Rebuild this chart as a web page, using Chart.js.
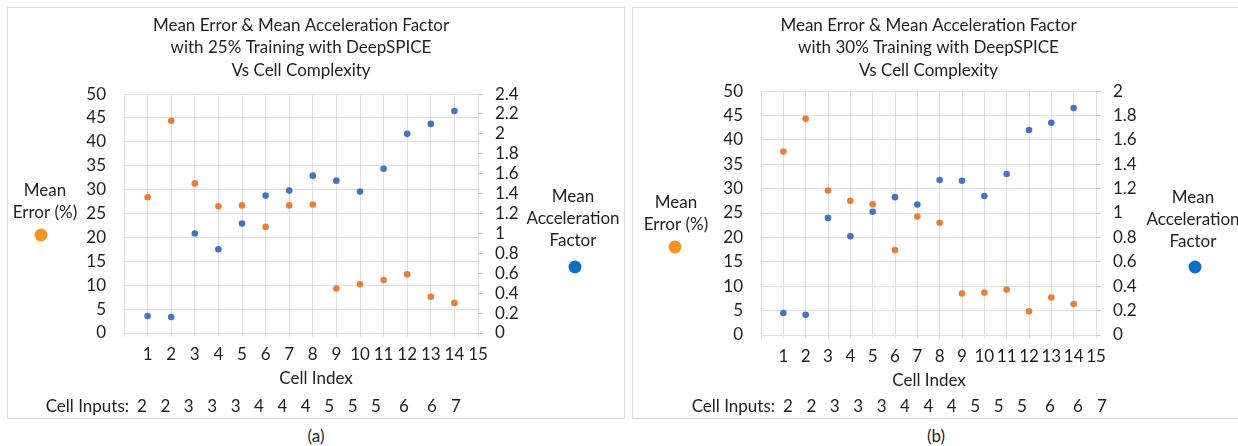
<!DOCTYPE html>
<html>
<head>
<meta charset="utf-8">
<title>Mean Error & Mean Acceleration Factor vs Cell Complexity</title>
<script src="https://cdn.jsdelivr.net/npm/chart.js@4.4.1/dist/chart.umd.min.js"></script>
<style>
  html, body { margin: 0; padding: 0; background: #fff; }
  body { width: 1238px; height: 446px; position: relative; overflow: hidden;
         font-family: Lato, sans-serif; color: #1f1f1f; }
  .panel { position: absolute; top: 7px; border: 1px solid #dcdcdc; background: #fff; }
  .panel canvas { display: block; }
  #panelA { left: 7px; }
  #panelB { left: 632px; border-right: none; }
  .caption { position: absolute; top: 426px; font-size: 17px; line-height: 20px;
             transform: translateX(-50%); }
</style>
</head>
<body>
<div class="panel" id="panelA"><canvas id="chartA" width="616" height="410"></canvas></div>
<div class="panel" id="panelB"><canvas id="chartB" width="605" height="410"></canvas></div>
<div class="caption" style="left:316px">(a)</div>
<div class="caption" style="left:936px">(b)</div>

<script>
/* ── Data ───────────────────────────────────────── */
const cellIndex  = [1, 2, 3, 4, 5, 6, 7, 8, 9, 10, 11, 12, 13, 14];
const cellInputs = [2, 2, 3, 3, 3, 4, 4, 4, 5, 5, 5, 6, 6, 7];

// (a) 25% training
const errorA = [28.4, 44.4, 31.3, 26.5, 26.7, 22.2, 26.7, 26.9, 9.3, 10.2, 11.1, 12.3, 7.6, 6.3];
const accelA = [0.17, 0.16, 1.00, 0.84, 1.10, 1.38, 1.43, 1.58, 1.53, 1.42, 1.65, 2.00, 2.10, 2.23];

// (b) 30% training
const errorB = [37.6, 44.3, 29.6, 27.5, 26.8, 17.4, 24.3, 23.0, 8.5, 8.7, 9.3, 4.85, 7.7, 6.35];
const accelB = [0.18, 0.165, 0.96, 0.81, 1.01, 1.13, 1.07, 1.27, 1.265, 1.14, 1.32, 1.68, 1.74, 1.86];

const errorTicks = { min: 0, max: 50, step: 5 };
const accelTicksA = { min: 0, max: 2.4, step: 0.2 };
const accelTicksB = { min: 0, max: 2, step: 0.2 };

/* ── Style ──────────────────────────────────────── */
const TEXT   = '#1f1f1f';
const GRID   = '#e0e0e0';
const ORANGE = '#ED7D31';
const BLUE   = '#4472C4';
const FONT   = 'Lato, sans-serif';
const SIZE   = 17;
const LINE   = 22;
const inputGaps = [23.4, 23.4, 23.4, 23.4, 23.4, 23.4, 23.4, 23.4, 23.4, 23.4, 28, 28, 24];

Chart.defaults.font.family = FONT;
Chart.defaults.font.size = SIZE;
Chart.defaults.color = TEXT;

/* ── Extra labels drawn around the plot ─────────── */
const panelExtras = {
  id: 'panelExtras',
  afterDraw(chart, args, o) {
    const { ctx } = chart;
    ctx.save();
    ctx.font = `${SIZE}px ${FONT}`;
    ctx.fillStyle = TEXT;
    ctx.textAlign = 'center';
    ctx.textBaseline = 'middle';

    ctx.fillText('Cell Index', o.indexX, o.indexY);

    o.side.forEach(s => {
      ctx.fillStyle = TEXT;
      s.lines.forEach((t, i) => ctx.fillText(t, s.x, s.y + i * LINE));
      ctx.beginPath();
      ctx.arc(s.dotX, s.dotY, 6.5, 0, Math.PI * 2);
      ctx.fillStyle = s.color;
      ctx.fill();
    });

    ctx.fillStyle = TEXT;
    ctx.textAlign = 'right';
    ctx.fillText('Cell Inputs:', o.inputsX - 13, o.inputsY);
    ctx.textAlign = 'center';
    let x = o.inputsX;
    cellInputs.forEach((v, i) => {
      if (i) x += inputGaps[i - 1];
      ctx.fillText(String(v), x, o.inputsY);
    });
    ctx.restore();
  }
};

function points(ys) {
  return cellIndex.map((x, i) => ({ x, y: ys[i] }));
}

function fmt(v) {
  return String(+v.toFixed(1));
}

/* ── Chart builder ──────────────────────────────── */
function buildChart(id, cfg) {
  const ctx = document.getElementById(id).getContext('2d');
  return new Chart(ctx, {
    type: 'scatter',
    data: {
      datasets: [
        { label: 'Mean Error (%)', data: points(cfg.error), yAxisID: 'y',
          backgroundColor: ORANGE, borderWidth: 0, pointRadius: 3.3 },
        { label: 'Mean Acceleration Factor', data: points(cfg.accel), yAxisID: 'y1',
          backgroundColor: BLUE, borderWidth: 0, pointRadius: 3.3 }
      ]
    },
    options: {
      responsive: false,
      devicePixelRatio: 1,
      animation: false,
      layout: { padding: 0 },
      plugins: {
        legend: { display: false },
        tooltip: { enabled: false },
        title: {
          display: true,
          fullSize: false,
          text: cfg.title,
          color: TEXT,
          font: { size: SIZE, weight: 'normal', lineHeight: 1.32 },
          padding: { top: 6, bottom: cfg.titleGap }
        },
        panelExtras: cfg.extras
      },
      scales: {
        x: {
          type: 'linear', min: 0, max: 15,
          afterFit: s => { s.height = cfg.xHeight; },
          grid: { color: GRID, tickLength: 4, tickColor: GRID },
          border: { display: false },
          ticks: { stepSize: 1, autoSkip: false, maxRotation: 0, padding: 7,
                   callback: v => v === 0 ? '' : v }
        },
        y: {
          position: 'left', min: errorTicks.min, max: errorTicks.max,
          afterFit: s => { s.width = cfg.leftWidth; },
          grid: { color: GRID, drawTicks: false },
          border: { display: false },
          ticks: { stepSize: errorTicks.step, autoSkip: false, padding: 18 }
        },
        y1: {
          position: 'right', min: cfg.accelTicks.min, max: cfg.accelTicks.max,
          afterFit: s => { s.width = cfg.rightWidth; },
          grid: { drawOnChartArea: false, tickLength: 5, tickColor: '#c8c8c8' },
          border: { display: false },
          ticks: { stepSize: cfg.accelTicks.step, autoSkip: false, padding: 12, callback: fmt }
        }
      }
    },
    plugins: [panelExtras]
  });
}

/* ── Panels ─────────────────────────────────────── */
buildChart('chartA', {
  title: ['Mean Error & Mean Acceleration Factor', 'with 25% Training with DeepSPICE', 'Vs Cell Complexity'],
  titleGap: 12.7,
  error: errorA, accel: accelA, accelTicks: accelTicksA,
  leftWidth: 116, rightWidth: 146, xHeight: 85,
  extras: {
    indexX: 308, indexY: 371,
    inputsX: 134, inputsY: 399,
    side: [
      { lines: ['Mean', 'Error (%)'], x: 37, y: 183, dotX: 33, dotY: 227, color: '#F7931E' },
      { lines: ['Mean', 'Acceleration', 'Factor'], x: 565, y: 189, dotX: 567, dotY: 259, color: '#0B6FC7' }
    ]
  }
});

buildChart('chartB', {
  title: ['Mean Error & Mean Acceleration Factor', 'with 30% Training with DeepSPICE', 'Vs Cell Complexity'],
  titleGap: 9.7,
  error: errorB, accel: accelB, accelTicks: accelTicksB,
  leftWidth: 128, rightWidth: 142, xHeight: 83,
  extras: {
    indexX: 296, indexY: 373,
    inputsX: 155, inputsY: 399,
    side: [
      { lines: ['Mean', 'Error (%)'], x: 43, y: 195, dotX: 42, dotY: 239, color: '#F7931E' },
      { lines: ['Mean', 'Acceleration', 'Factor'], x: 560, y: 190, dotX: 562, dotY: 259, color: '#0B6FC7' }
    ]
  }
});
</script>
</body>
</html>
